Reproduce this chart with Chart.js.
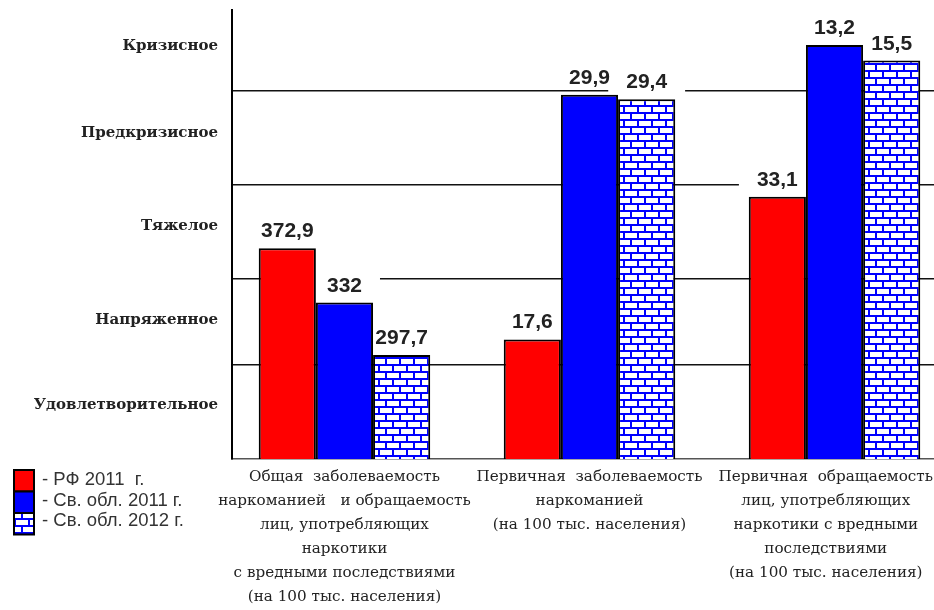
<!DOCTYPE html>
<html>
<head>
<meta charset="utf-8">
<script src="https://cdn.jsdelivr.net/npm/chart.js@4.4.1/dist/chart.umd.min.js"></script>
<style>
  html, body { margin: 0; padding: 0; background: #fff; }
  #wrap { width: 934px; height: 610px; position: relative; }
</style>
</head>
<body>
<div id="wrap"><canvas id="c" width="934" height="610"></canvas></div>
<script>
// ---- data ----
const categories = [
  ["Общая  заболеваемость", "наркоманией   и обращаемость", "лиц, употребляющих", "наркотики", "с вредными последствиями", "(на 100 тыс. населения)"],
  ["Первичная  заболеваемость", "наркоманией", "(на 100 тыс. населения)"],
  ["Первичная  обращаемость", "лиц, употребляющих", "наркотики с вредными", "последствиями", "(на 100 тыс. населения)"]
];
const seriesNames = ["- РФ 2011  г.", "- Св. обл. 2011 г.", "- Св. обл. 2012 г."];
// bar heights on the level scale (1 unit ≈ one level band)
const rf2011Heights = [2.29, 1.30, 2.85];
const sv2011Heights = [1.70, 3.96, 4.50];
const sv2012Heights = [1.13, 3.91, 4.33];
// printed value labels
const rf2011Labels = ["372,9", "17,6", "33,1"];
const sv2011Labels = ["332", "29,9", "13,2"];
const sv2012Labels = ["297,7", "29,4", "15,5"];
// level axis
const levelNames = ["Удовлетворительное", "Напряженное", "Тяжелое", "Предкризисное", "Кризисное"];
const levelLabelPos = [0.59, 1.51, 2.53, 3.54, 4.49];
const levelBounds = [1.02, 1.96, 2.98, 4.00];
const levelMax = 4.88;

// ---- pattern ----
function brickPattern() {
  const p = document.createElement('canvas');
  p.width = 14; p.height = 14;
  const g = p.getContext('2d');
  g.fillStyle = '#ffffff';
  g.fillRect(0, 0, 14, 14);
  g.fillStyle = '#0000ff';
  g.fillRect(0, 0, 14, 2);
  g.fillRect(0, 7, 14, 2);
  g.fillRect(0, 0, 2, 7);
  g.fillRect(7, 7, 2, 7);
  return document.getElementById('c').getContext('2d').createPattern(p, 'repeat');
}
const pat = brickPattern();
const fills = ['#ff0000', '#0000ff', pat];

const allHeights = [rf2011Heights, sv2011Heights, sv2012Heights];
const allLabels = [rf2011Labels, sv2011Labels, sv2012Labels];

const datasets = allHeights.map((h, d) => ({
  label: seriesNames[d],
  data: h.map((v, i) => ({ x: i, y: v })),
  backgroundColor: fills[d],
  borderColor: '#000',
  borderWidth: 2,
  borderSkipped: 'bottom',
  categoryPercentage: 0.7,
  barPercentage: 1.0
}));

const labelFont = 'bold 21px "Liberation Sans", Arial, sans-serif';

const labelBoxes = {
  id: 'labelBoxes',
  beforeDatasetsDraw(chart) {
    const ctx = chart.ctx;
    ctx.save();
    ctx.font = labelFont;
    ctx.fillStyle = '#fff';
    chart.data.datasets.forEach((ds, d) => {
      chart.getDatasetMeta(d).data.forEach((el, i) => {
        const w = ctx.measureText(allLabels[d][i]).width / 2 + 18;
        const cy = el.y - 18.5;
        ctx.fillRect(el.x - w, cy - 13, 2 * w, 26);
      });
    });
    ctx.restore();
  },
  afterDatasetsDraw(chart) {
    const ctx = chart.ctx;
    ctx.save();
    ctx.font = labelFont;
    ctx.fillStyle = '#222';
    ctx.textAlign = 'center';
    ctx.textBaseline = 'alphabetic';
    chart.data.datasets.forEach((ds, d) => {
      chart.getDatasetMeta(d).data.forEach((el, i) => {
        ctx.fillText(allLabels[d][i], el.x, el.y - 11);
      });
    });
    ctx.restore();
  },
  afterDraw(chart) {
    const ctx = chart.ctx;
    const xs = chart.scales.x;
    ctx.save();
    // category labels
    ctx.font = '15.2px "DejaVu Serif", serif';
    ctx.fillStyle = '#222';
    ctx.textAlign = 'center';
    ctx.textBaseline = 'middle';
    categories.forEach((lines, i) => {
      let x = xs.getPixelForValue(i);
      const mw = Math.max(...lines.map(l => ctx.measureText(l).width));
      x = Math.min(x, chart.width - mw / 2 - 1);
      lines.forEach((l, k) => ctx.fillText(l, x, xs.top + 18 + k * 24));
    });
    // legend
    const sx = 14, sw = 20, sh = 21.5, sy = 470;
    seriesNames.forEach((n, d) => {
      const y = sy + d * sh;
      ctx.fillStyle = fills[d];
      ctx.fillRect(sx, y, sw, sh);
      ctx.lineWidth = 2;
      ctx.strokeStyle = '#000';
      ctx.strokeRect(sx, y, sw, sh);
      ctx.font = '18.5px "Liberation Sans", Arial, sans-serif';
      ctx.fillStyle = '#333';
      ctx.textAlign = 'left';
      ctx.fillText(n, 42, 480 + d * 20.5);
    });
    ctx.restore();
  }
};

new Chart(document.getElementById('c'), {
  type: 'bar',
  data: { datasets },
  options: {
    responsive: false,
    animation: false,
    layout: { padding: { top: 10, left: 0, right: 0, bottom: 0 } },
    plugins: { legend: { display: false }, tooltip: { enabled: false } },
    scales: {
      x: {
        type: 'linear',
        offset: false,
        min: -0.459,
        max: 2.406,
        afterBuildTicks(s) { s.ticks = categories.map((c, i) => ({ value: i })); },
        afterFit(s) { s.height = 151; s.paddingLeft = 0; s.paddingRight = 0; },
        ticks: { display: false },
        grid: { display: false },
        border: { display: true, color: '#555', width: 1.5 }
      },
      y: {
        type: 'linear',
        min: 0,
        max: levelMax,
        afterBuildTicks(s) {
          s.ticks = levelBounds.map(v => ({ value: v })).concat(levelLabelPos.map(v => ({ value: v })));
        },
        afterFit(s) { s.width = 232; s.paddingTop = 0; s.paddingBottom = 0; },
        ticks: {
          padding: 14,
          font: { family: '"DejaVu Serif", serif', size: 15, weight: 'bold' },
          color: '#222',
          callback(v) {
            const k = levelLabelPos.indexOf(v);
            return k >= 0 ? levelNames[k] : '';
          }
        },
        grid: {
          drawTicks: false,
          lineWidth: 1.5,
          color(ctx) {
            return ctx.tick && levelBounds.indexOf(ctx.tick.value) >= 0 ? '#111' : 'rgba(0,0,0,0)';
          }
        },
        border: { display: true, color: '#000', width: 2 }
      }
    }
  },
  plugins: [labelBoxes]
});
</script>
</body>
</html>
